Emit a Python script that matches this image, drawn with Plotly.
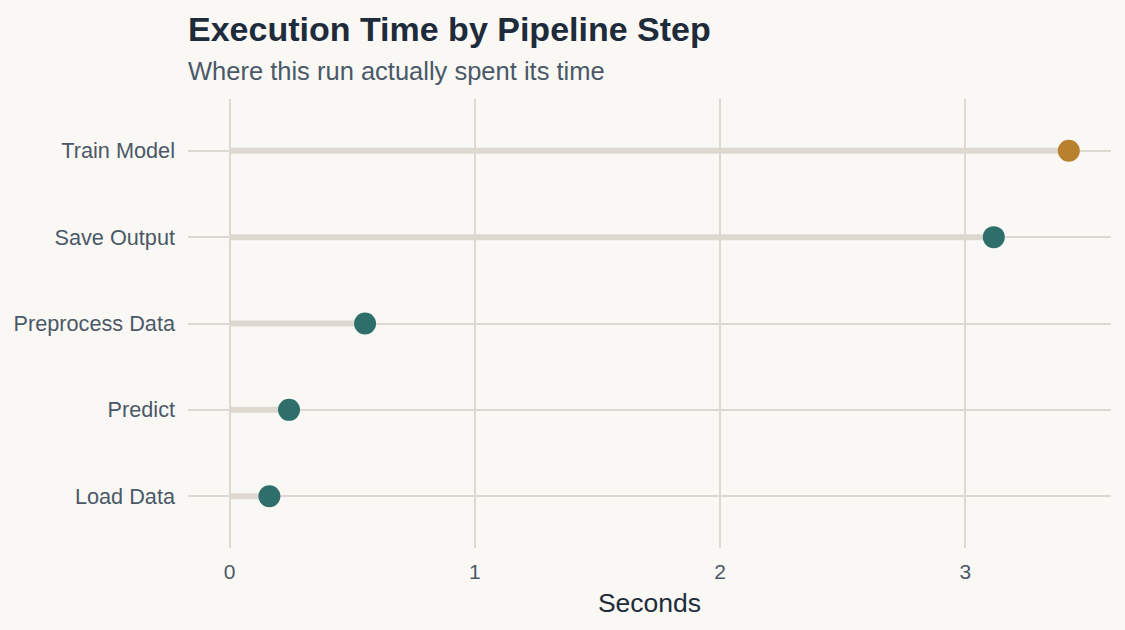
import plotly.graph_objects as go

# pipeline steps, bottom to top
steps = ["Load Data", "Predict", "Preprocess Data", "Save Output", "Train Model"]
seconds = [0.162, 0.242, 0.552, 3.116, 3.422]

BG = "#faf8f4"
GRID = "#ded9d0"
TEAL = "#2e6f6b"
GOLD = "#b8812e"
INK = "#1e2b3a"
MUTED = "#4a5868"

# slowest step gets the highlight colour
slowest = max(seconds)
dot_colors = [GOLD if s == slowest else TEAL for s in seconds]

# stems from 0 to each value
stem_x, stem_y = [], []
for step, s in zip(steps, seconds):
    stem_x += [0, s, None]
    stem_y += [step, step, None]

fig = go.Figure()
fig.add_trace(go.Scatter(
    x=stem_x, y=stem_y, mode="lines",
    line=dict(color=GRID, width=6),
    hoverinfo="skip", showlegend=False,
))
fig.add_trace(go.Scatter(
    x=seconds, y=steps, mode="markers",
    marker=dict(size=22, color=dot_colors, line=dict(width=0)),
    showlegend=False,
))

fig.update_xaxes(
    range=[-0.17, 3.594],
    tickvals=[0, 1, 2, 3],
    showgrid=True, gridcolor=GRID, gridwidth=2,
    zeroline=False, showline=False, ticks="",
    ticklabelstandoff=9,
    tickfont=dict(size=21, color=MUTED),
    title=dict(text="Seconds", font=dict(size=26.5, color=INK), standoff=11),
)
fig.update_yaxes(
    categoryorder="array", categoryarray=steps,
    range=[-0.6, 4.6],
    showgrid=True, gridcolor=GRID, gridwidth=2,
    zeroline=False, showline=False, ticks="",
    ticklabelstandoff=12,
    tickfont=dict(size=21.7, color=MUTED),
)

fig.update_layout(
    width=1125,
    height=630,
    paper_bgcolor=BG,
    plot_bgcolor=BG,
    font=dict(family="Liberation Sans, Arial, sans-serif", color=MUTED),
    margin=dict(t=99, l=188, r=14, b=82),
)

# title and subtitle
fig.add_annotation(
    text="<b>Execution Time by Pipeline Step</b>",
    x=0, y=1.156, xref="paper", yref="paper", xshift=-2,
    xanchor="left", yanchor="middle", showarrow=False,
    font=dict(size=34, color=INK),
)
fig.add_annotation(
    text="Where this run actually spent its time",
    x=0, y=1.0625, xref="paper", yref="paper", xshift=-2,
    xanchor="left", yanchor="middle", showarrow=False,
    font=dict(size=25.5, color=MUTED),
)

fig.write_html(
    "out.html",
    config={"displayModeBar": False},
    post_script="document.body.style.margin='0';",
)
